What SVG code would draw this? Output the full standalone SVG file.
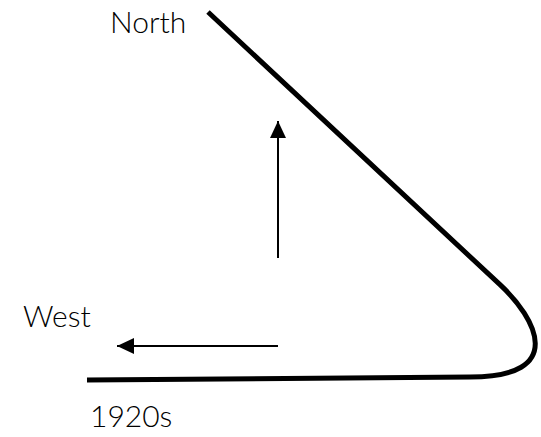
<svg xmlns="http://www.w3.org/2000/svg" width="541" height="437" viewBox="0 0 541 437">
<style>
.lbl{font-family:Lato,"Open Sans","Liberation Sans",sans-serif;font-weight:300;font-size:30px;fill:#000}
.arr{stroke:#000;stroke-width:2;fill:none}
</style>
<defs>
<marker id="ah" markerWidth="18" markerHeight="16" refX="17" refY="8" orient="auto" markerUnits="userSpaceOnUse">
<path d="M0,0 L17,8 L0,16 Z" fill="#000"/>
</marker>
</defs>
<rect width="541" height="437" fill="#fff"/>
<g id="path">
<path d="M208,12 L500,284.7 C536,318 568,377 470,377 L87,380" stroke="#000" stroke-width="5" fill="none" stroke-linejoin="round"/>
</g>
<g id="connectors">
<line class="arr" x1="278" y1="258" x2="278" y2="121" marker-end="url(#ah)"/>
<line class="arr" x1="278" y1="346" x2="117" y2="346" marker-end="url(#ah)"/>
</g>
<g id="north"><text class="lbl" x="110" y="33">North</text></g>
<g id="west"><text class="lbl" x="23" y="327">West</text></g>
<g id="year"><text class="lbl" x="90" y="427">1920s</text></g>
</svg>
